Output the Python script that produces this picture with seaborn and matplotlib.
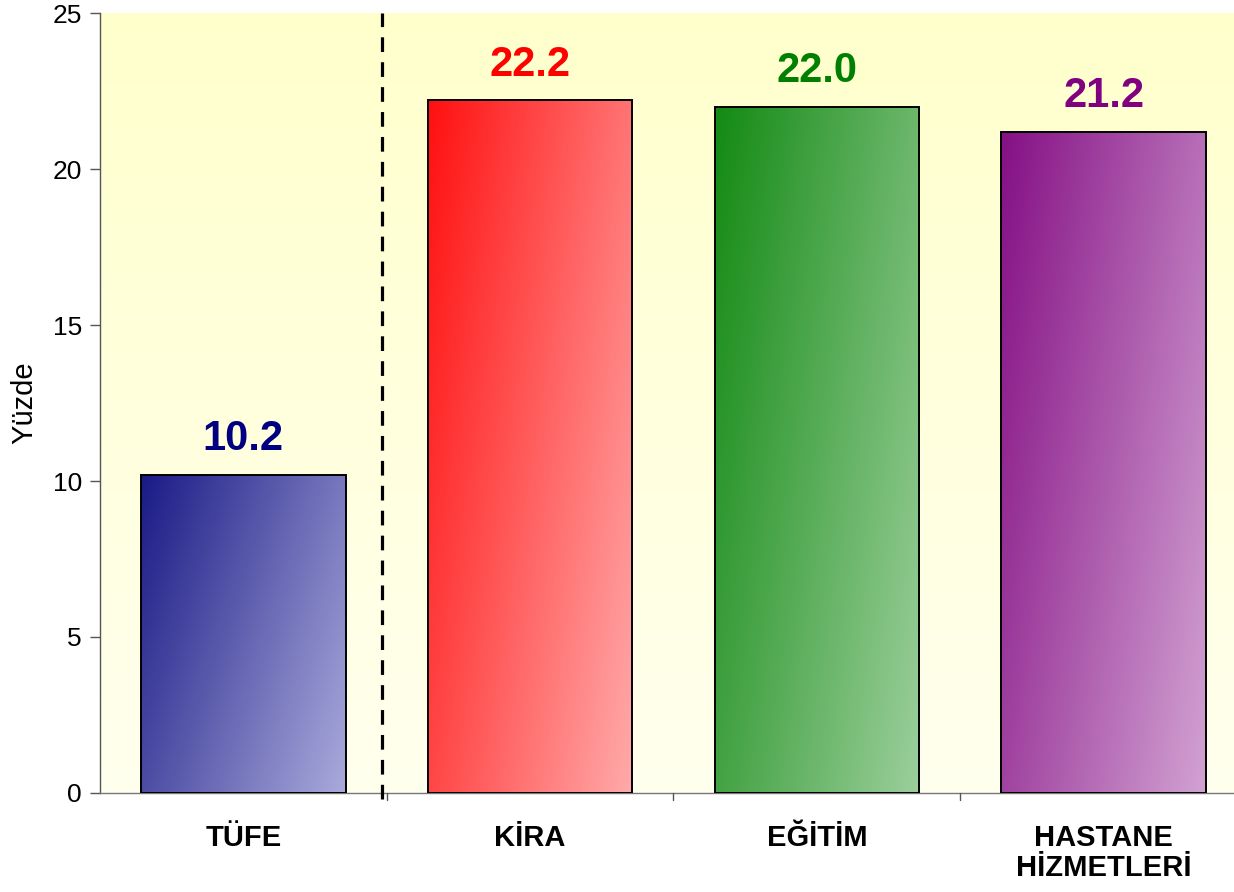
import numpy as np
import pandas as pd
import matplotlib
matplotlib.use("Agg")
import matplotlib.pyplot as plt
import seaborn as sns
from matplotlib.colors import to_rgb

# data
categories = ["TÜFE", "KİRA", "EĞİTİM", "HASTANE\nHİZMETLERİ"]
values = [10.2, 22.2, 22.0, 21.2]
value_labels = ["10.2", "22.2", "22.0", "21.2"]
dark_colors = ["#1a1a86", "#ff1010", "#138a13", "#851085"]
light_colors = ["#aaaadc", "#ffaaaa", "#9ccf9c", "#d2a2d2"]
label_colors = ["#000080", "#ff0000", "#008000", "#800080"]
y_ticks = [0, 5, 10, 15, 20, 25]

df = pd.DataFrame({"kategori": categories, "deger": values})

sns.set_theme(style="white")
plt.rcParams["font.family"] = ["Liberation Sans", "DejaVu Sans"]
plt.rcParams["text.color"] = "black"
plt.rcParams["xtick.color"] = "black"
plt.rcParams["ytick.color"] = "black"
plt.rcParams["axes.labelcolor"] = "black"

fig = plt.figure(figsize=(12.34, 8.92), dpi=100)
ax = fig.add_axes([0.081, 0.111, 0.9295, 0.8744])

# pale yellow background gradient
bg = np.linspace(0, 1, 200)[:, None, None]
top = np.array(to_rgb("#ffffcc"))
bot = np.array(to_rgb("#ffffee"))
bg_img = top * (1 - bg) + bot * bg
bg_img = np.repeat(bg_img, 2, axis=1)
ax.imshow(bg_img, extent=[0, 1, 0, 1], transform=ax.transAxes,
          aspect="auto", zorder=0)

sns.barplot(data=df, x="kategori", y="deger", hue="kategori",
            palette=dark_colors, width=0.713, edgecolor="black",
            linewidth=1.4, legend=False, ax=ax, zorder=2)

# gradient fill inside each bar
for i, bar in enumerate(ax.patches):
    x0, y0 = bar.get_x(), bar.get_y()
    w, h = bar.get_width(), bar.get_height()
    u = np.linspace(0, 1, 120)[None, :]
    v = np.linspace(0, 1, 200)[:, None]
    t = (0.65 * u + 0.35 * v)
    t = t / t.max()
    c1 = np.array(to_rgb(dark_colors[i]))
    c2 = np.array(to_rgb(light_colors[i]))
    img = c1 * (1 - t[..., None]) + c2 * t[..., None]
    im = ax.imshow(img, extent=[x0, x0 + w, y0, y0 + h], origin="upper",
                   aspect="auto", zorder=2.5)
    im.set_clip_path(bar)
    bar.set_facecolor("none")
    bar.set_zorder(3)
    ax.text(x0 + w / 2, values[i] + 0.5, value_labels[i], ha="center",
            va="bottom", color=label_colors[i], fontsize=30,
            fontweight="bold", zorder=4)

ax.set_xlim(-0.5, 3.5)
ax.set_ylim(0, 25)

# dashed separator
ax.plot([0.485, 0.485], [-0.2, 25], color="black", lw=2.3,
        linestyle=(0, (4.6, 3.2)), zorder=4, clip_on=False)

ax.set_yticks(y_ticks)
ax.set_yticklabels([str(t) for t in y_ticks], fontsize=19)
ax.set_xticks(range(len(categories)))
ax.set_xticklabels(categories, fontsize=21, fontweight="bold",
                   linespacing=1.1, va="top")
ax.tick_params(axis="x", length=0, pad=22)
ax.tick_params(axis="y", left=True, length=7, width=1, color="#555555", pad=6)

# boundary ticks on the x axis
for b in [0.5, 1.5, 2.5]:
    ax.plot([b, b], [0, -0.22], color="#555555", lw=1, clip_on=False, zorder=4)

for s in ["top", "right"]:
    ax.spines[s].set_visible(False)
ax.spines["left"].set_color("#555555")
ax.spines["bottom"].set_color("#777777")
ax.spines["left"].set_linewidth(1)
ax.spines["bottom"].set_linewidth(1)

ax.set_xlabel("")
ax.set_ylabel("Yüzde", fontsize=21, labelpad=10)
ax.grid(False)

fig.savefig("out.png", dpi=100)
